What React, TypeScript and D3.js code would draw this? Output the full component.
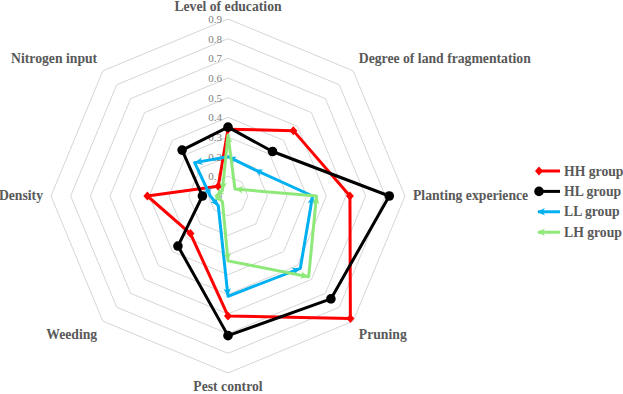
import React from "react";
import * as d3 from "d3";

// Radar axes, clockwise from the top
const axes = [
  "Level of education",
  "Degree of land fragmentation",
  "Planting experience",
  "Pruning",
  "Pest control",
  "Weeding",
  "Density",
  "Nitrogen input",
];

// Group scores on each axis
const hhValues = [0.34, 0.47, 0.62, 0.88, 0.61, 0.27, 0.41, 0.07];
const hlValues = [0.35, 0.32, 0.82, 0.74, 0.71, 0.36, 0.13, 0.33];
const llValues = [0.2, 0.19, 0.43, 0.52, 0.51, 0.07, 0.09, 0.24];
const lhValues = [0.31, 0.05, 0.45, 0.58, 0.33, 0.04, 0.06, 0.04];

const groupNames = ["HH group", "HL group", "LL group", "LH group"];
const tickValues = [0, 0.1, 0.2, 0.3, 0.4, 0.5, 0.6, 0.7, 0.8, 0.9];

const W = 623;
const H = 394;
const cx = 228;
const cy = 196;
const R = 177;
const FONT = "'Liberation Serif', 'Times New Roman', serif";
const LABEL = "#595959";
const GRID = "#d6d6d6";

type Marker = "diamond" | "circle" | "arrow";
const series = [
  { name: groupNames[0], values: hhValues, color: "#ff0000", marker: "diamond" as Marker },
  { name: groupNames[1], values: hlValues, color: "#000000", marker: "circle" as Marker },
  { name: groupNames[2], values: llValues, color: "#00b0f0", marker: "arrow" as Marker },
  { name: groupNames[3], values: lhValues, color: "#8fe87a", marker: "arrow" as Marker },
];

const r = d3.scaleLinear().domain([0, 0.9]).range([0, R]);
const angle = d3
  .scaleLinear()
  .domain([0, axes.length])
  .range([0, 2 * Math.PI]);

function pt(i: number, v: number): [number, number] {
  const a = angle(i);
  return [cx + r(v) * Math.sin(a), cy - r(v) * Math.cos(a)];
}

const radial = d3
  .lineRadial<number>()
  .angle((_, i) => angle(i))
  .radius((v) => r(v))
  .curve(d3.curveLinearClosed);

function arrowPath(tip: [number, number], dir: [number, number]) {
  const len = Math.hypot(dir[0], dir[1]) || 1;
  const ux = dir[0] / len;
  const uy = dir[1] / len;
  const px = -uy;
  const py = ux;
  const L = 8;
  const Wd = 3.8;
  const back = [tip[0] - ux * L, tip[1] - uy * L];
  const notch = [tip[0] - ux * L * 0.7, tip[1] - uy * L * 0.7];
  return `M${tip[0]},${tip[1]}L${back[0] + px * Wd},${back[1] + py * Wd}L${notch[0]},${notch[1]}L${back[0] - px * Wd},${back[1] - py * Wd}Z`;
}

function MarkerShape({ m, x, y, color, dir }: { m: Marker; x: number; y: number; color: string; dir?: [number, number] }) {
  if (m === "circle") return <circle cx={x} cy={y} r={4.8} fill={color} />;
  if (m === "diamond")
    return <path d={`M${x},${y - 4.5}L${x + 4},${y}L${x},${y + 4.5}L${x - 4},${y}Z`} fill={color} />;
  return <path d={arrowPath([x, y], dir || [-1, 0])} fill={color} />;
}

export default function App() {
  const n = axes.length;
  return (
    <svg width={W} height={H} style={{ position: "absolute", left: 0, top: 0, background: "#fff" }}>
      {/* grid rings */}
      <g fill="none" stroke={GRID} strokeWidth={1}>
        {tickValues.slice(1).map((t) => (
          <path key={t} d={radial(axes.map(() => t)) || ""} transform={`translate(${cx},${cy})`} />
        ))}
      </g>
      {/* tick labels */}
      <g fontFamily={FONT} fontSize={11} fill="#808080" textAnchor="end">
        {tickValues.map((t) => (
          <text key={t} x={cx - 6} y={cy - r(t) + 4}>
            {d3.format("")(t)}
          </text>
        ))}
      </g>
      {/* axis labels */}
      <g fontFamily={FONT} fontSize={13.7} fontWeight="bold" fill={LABEL}>
        {axes.map((name, i) => {
          const a = angle(i);
          const s = Math.sin(a);
          const c = Math.cos(a);
          const d = R + 8;
          const x = cx + d * s;
          const y = cy - d * c;
          const anchor = s > 0.1 ? "start" : s < -0.1 ? "end" : "middle";
          let dy = c > 0.1 ? -2 : c < -0.1 ? 12 : 4;
          if (c > 0.99) dy = -0.5;
          if (c < -0.99) dy = 10;
          return (
            <text key={name} x={x} y={y + dy} textAnchor={anchor}>
              {name}
            </text>
          );
        })}
      </g>
      {/* series */}
      {series.map((s) => (
        <g key={s.name}>
          <path
            d={radial(s.values) || ""}
            transform={`translate(${cx},${cy})`}
            fill="none"
            stroke={s.color}
            strokeWidth={3}
            strokeLinejoin="round"
          />
          {s.values.map((v, i) => {
            const p = pt(i, v);
            const q = pt((i + 1) % n, s.values[(i + 1) % n]);
            return (
              <MarkerShape key={i} m={s.marker} x={p[0]} y={p[1]} color={s.color} dir={[p[0] - q[0], p[1] - q[1]]} />
            );
          })}
        </g>
      ))}
      {/* legend */}
      <g fontFamily={FONT} fontSize={13.7} fontWeight="bold" fill={LABEL}>
        {series.map((s, i) => {
          const y = 171 + i * 20.4;
          return (
            <g key={s.name}>
              <line x1={538} x2={560} y1={y} y2={y} stroke={s.color} strokeWidth={3} />
              <MarkerShape m={s.marker} x={s.marker === "arrow" ? 537 : 539} y={y} color={s.color} dir={[-1, 0]} />
              <text x={564} y={y + 4.5}>
                {s.name}
              </text>
            </g>
          );
        })}
      </g>
    </svg>
  );
}
